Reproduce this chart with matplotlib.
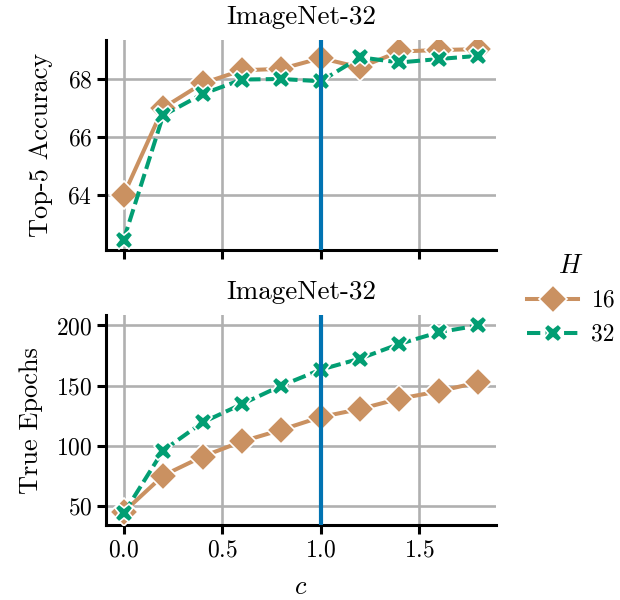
import matplotlib
matplotlib.use("Agg")
import matplotlib.pyplot as plt

# data
c_vals = [0.0, 0.2, 0.4, 0.6, 0.8, 1.0, 1.2, 1.4, 1.6, 1.8]
acc_h16 = [64.0, 67.0, 67.85, 68.3, 68.35, 68.72, 68.4, 68.95, 69.0, 69.03]
acc_h32 = [62.45, 66.74, 67.48, 67.98, 68.0, 67.92, 68.75, 68.57, 68.69, 68.8]
ep_h16 = [45, 75.3, 91.1, 103.6, 113.3, 123.9, 130.6, 139.2, 145.3, 152.8]
ep_h32 = [43.9, 96.1, 119.4, 134.7, 150, 163.3, 172.5, 184.7, 194.4, 200]
h_labels = ["16", "32"]

plt.rcParams["font.family"] = ["cmr10", "DejaVu Serif"]
plt.rcParams["mathtext.fontset"] = "cm"
plt.rcParams["axes.formatter.use_mathtext"] = True
plt.rcParams["axes.unicode_minus"] = False

col16 = "#ca9161"
col32 = "#029e73"
vcol = "#0173b2"

fig, (ax1, ax2) = plt.subplots(2, 1, sharex=True, figsize=(6.2, 6.0), dpi=100)
fig.subplots_adjust(left=0.171, right=0.8, top=0.933, bottom=0.125, hspace=0.314)

def draw(ax, y16, y32):
    l1, = ax.plot(c_vals, y16, color=col16, lw=2.9, marker="D", ms=14,
                  mec="white", mew=1.2, label=h_labels[0], zorder=3)
    l2, = ax.plot(c_vals, y32, color=col32, lw=2.9, ls=(0, (3.3, 1.3)), marker="X", ms=13,
                  mec="white", mew=1.2, label=h_labels[1], zorder=4)
    ax.axvline(1.0, color=vcol, lw=3, zorder=5)
    ax.grid(True, color="#b0b0b0", lw=1.9)
    ax.set_axisbelow(True)
    for s in ["top", "right"]:
        ax.spines[s].set_visible(False)
    for s in ["left", "bottom"]:
        ax.spines[s].set_linewidth(2.2)
    ax.tick_params(width=2.2, length=6.5, labelsize=17)
    ax.set_title("ImageNet-32", fontsize=19.5, pad=12)
    return l1, l2

lines = draw(ax1, acc_h16, acc_h32)
draw(ax2, ep_h16, ep_h32)

ax1.set_ylim(62.1, 69.34)
ax1.set_yticks([64, 66, 68])
ax1.set_ylabel("Top-5 Accuracy", fontsize=19, labelpad=10)
ax1.tick_params(labelbottom=False)

ax2.set_ylim(34.2, 208.3)
ax2.set_yticks([50, 100, 150, 200])
ax2.set_ylabel("True Epochs", fontsize=19, labelpad=9)
ax2.set_xticks([0.0, 0.5, 1.0, 1.5])
ax2.set_xlabel("$c$", fontsize=19, labelpad=10)

leg = fig.legend(lines, h_labels, title="$H$", loc="center left",
                 bbox_to_anchor=(0.815, 0.5), frameon=False, fontsize=17,
                 title_fontsize=19, handlelength=2.2, handletextpad=0.55)

fig.savefig("out.png", dpi=100)
